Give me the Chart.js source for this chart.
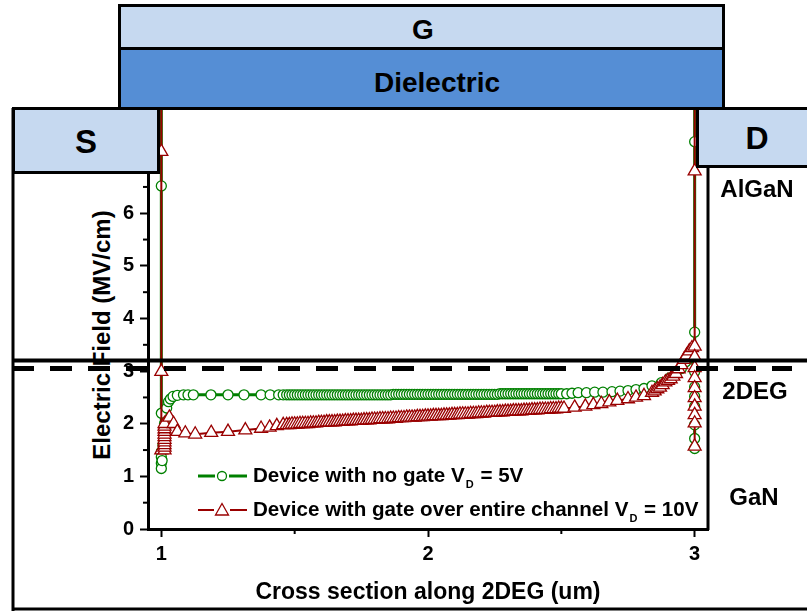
<!DOCTYPE html>
<html>
<head>
<meta charset="utf-8">
<script src="https://cdn.jsdelivr.net/npm/chart.js@4.4.1/dist/chart.umd.min.js"></script>
<style>
  html, body { margin: 0; padding: 0; background: #fff; }
  #wrap { position: relative; width: 807px; height: 612px; overflow: hidden; font-family: 'Liberation Sans', Arial, sans-serif; font-weight: bold; color: #000; }
  #chart { position: absolute; left: 0; top: 0; }
  .box { position: absolute; box-sizing: border-box; border: 3px solid #000; }
  .light { background: #c6d9f0; }
  .dark { background: #558ed5; }
  .lbl { position: absolute; transform: translate(-50%, -50%); line-height: 1; white-space: nowrap; }
  .ytitle { position: absolute; left: 102px; top: 335px; transform: translate(-50%, -50%) rotate(-90deg); font-size: 24px; line-height: 1; white-space: nowrap; }
  .leg { position: absolute; left: 196px; height: 26px; display: flex; align-items: center; white-space: nowrap; font-size: 20.6px; }
  .leg svg { margin-right: 5px; }
  .leg sub { font-size: 11px; vertical-align: -6px; margin-left: 1px; margin-right: 1px; }
</style>
</head>
<body>
<div id="wrap">
  <!-- y title sits under the canvas so the layer lines cross it, as in the figure -->
  <div class="ytitle">Electric Field (MV/cm)</div>
  <canvas id="chart" width="807" height="612"></canvas>

  <div class="box light" style="left:118px;top:4px;width:607px;height:46px"></div>
  <div class="box dark" style="left:118px;top:47px;width:607px;height:63px"></div>
  <div class="box light" style="left:12px;top:107px;width:148px;height:67px"></div>
  <div class="box light" style="left:696px;top:107px;width:130px;height:61px"></div>

  <div class="lbl" style="left:423px;top:30px;font-size:28px">G</div>
  <div class="lbl" style="left:437px;top:83px;font-size:28px">Dielectric</div>
  <div class="lbl" style="left:86px;top:141px;font-size:33px">S</div>
  <div class="lbl" style="left:757px;top:138px;font-size:32px">D</div>
  <div class="lbl" style="left:757px;top:189px;font-size:24px">AlGaN</div>
  <div class="lbl" style="left:755px;top:391px;font-size:24px">2DEG</div>
  <div class="lbl" style="left:754px;top:497px;font-size:24px">GaN</div>

  <div class="leg" style="top:463px">
    <svg width="52" height="26">
      <line x1="2" y1="13" x2="19" y2="13" stroke="#008000" stroke-width="3"/>
      <circle cx="26" cy="13" r="4.5" fill="#fff" stroke="#008000" stroke-width="1.3"/>
      <line x1="33" y1="13" x2="51" y2="13" stroke="#008000" stroke-width="3"/>
    </svg>
    <span>Device with no gate V<sub>D</sub> = 5V</span>
  </div>
  <div class="leg" style="top:497px">
    <svg width="52" height="26">
      <line x1="2" y1="13" x2="18" y2="13" stroke="#990000" stroke-width="2"/>
      <polygon points="26,6.5 32.5,18 19.5,18" fill="#fff" stroke="#990000" stroke-width="1.3"/>
      <line x1="34" y1="13" x2="51" y2="13" stroke="#990000" stroke-width="2"/>
    </svg>
    <span>Device with gate over entire channel V<sub>D</sub> = 10V</span>
  </div>
</div>

<script>
// axis ticks
const xTicks = [1, 1.5, 2, 2.5, 3];
const yTicks = [0, 0.5, 1, 1.5, 2, 2.5, 3, 3.5, 4, 4.5, 5, 5.5, 6, 6.5, 7, 7.5, 8];

// dense simulation grid along the channel (shared by both curves)
const channelX = [1.47, 1.48, 1.49, 1.50, 1.51, 1.52, 1.53, 1.54, 1.55, 1.56, 1.57, 1.58, 1.59, 1.60,
  1.61, 1.62, 1.63, 1.64, 1.65, 1.66, 1.67, 1.68, 1.69, 1.70, 1.71, 1.72, 1.73, 1.74, 1.75, 1.76,
  1.77, 1.78, 1.79, 1.80, 1.81, 1.82, 1.83, 1.84, 1.85, 1.86, 1.87, 1.88, 1.89, 1.90, 1.91, 1.92,
  1.93, 1.94, 1.95, 1.96, 1.97, 1.98, 1.99, 2.00, 2.01, 2.02, 2.03, 2.04, 2.05, 2.06, 2.07, 2.08,
  2.09, 2.10, 2.11, 2.12, 2.13, 2.14, 2.15, 2.16, 2.17, 2.18, 2.19, 2.20, 2.21, 2.22, 2.23, 2.24,
  2.25, 2.26, 2.27, 2.28, 2.29, 2.30, 2.31, 2.32, 2.33, 2.34, 2.35, 2.36, 2.37, 2.38, 2.39, 2.40,
  2.41, 2.42, 2.43, 2.44, 2.45, 2.46, 2.47, 2.48, 2.49, 2.50];

// no gate, VD = 5V (green)
const noGateLeftX = [1.0, 1.0, 1.0, 1.0, 1.0, 1.0, 1.0, 1.003, 1.006, 1.012, 1.02, 1.027, 1.034, 1.044,
  1.06, 1.083, 1.1, 1.12, 1.186, 1.25, 1.31, 1.374, 1.408, 1.44, 1.457];
const noGateLeftY = [9.0, 6.52, 2.2, 1.47, 1.37, 1.25, 1.15, 1.3, 1.6, 2.0, 2.3, 2.42, 2.47, 2.52,
  2.54, 2.55, 2.55, 2.55, 2.55, 2.55, 2.55, 2.55, 2.55, 2.55, 2.55];
const noGateChannelY = [2.55, 2.55, 2.55, 2.55, 2.55, 2.55, 2.55, 2.55, 2.55, 2.55, 2.55, 2.55, 2.55, 2.55,
  2.55, 2.55, 2.55, 2.55, 2.55, 2.55, 2.55, 2.55, 2.55, 2.55, 2.55, 2.55, 2.55, 2.55, 2.55, 2.55,
  2.55, 2.55, 2.55, 2.55, 2.55, 2.55, 2.55, 2.55, 2.55, 2.55, 2.56, 2.56, 2.56, 2.56, 2.56, 2.56,
  2.56, 2.56, 2.56, 2.56, 2.56, 2.56, 2.56, 2.56, 2.56, 2.56, 2.56, 2.56, 2.56, 2.56, 2.56, 2.56,
  2.56, 2.56, 2.56, 2.56, 2.56, 2.56, 2.56, 2.56, 2.56, 2.56, 2.56, 2.56, 2.56, 2.56, 2.56, 2.56,
  2.56, 2.56, 2.57, 2.57, 2.57, 2.57, 2.57, 2.57, 2.57, 2.57, 2.57, 2.57, 2.57, 2.57, 2.57, 2.57,
  2.57, 2.57, 2.57, 2.57, 2.57, 2.57, 2.57, 2.57, 2.57, 2.57];
const noGateRightX = [2.52, 2.54, 2.563, 2.594, 2.625, 2.656, 2.69, 2.72, 2.75, 2.78, 2.81, 2.84, 2.875,
  2.906, 2.93, 2.95, 2.967, 2.986, 3.0, 3.0, 3.0, 3.0, 3.0, 3.0, 3.0, 3.0, 3.0, 3.0];
const noGateRightY = [2.57, 2.58, 2.59, 2.59, 2.6, 2.6, 2.61, 2.62, 2.63, 2.65, 2.67, 2.72, 2.78,
  2.87, 2.97, 3.05, 3.18, 3.28, 2.99, 2.7, 2.52, 2.33, 1.98, 1.72, 1.53, 3.74, 7.36, 9.0];

// gate over entire channel, VD = 10V (dark red)
const fullGateLeftX = [1.0, 1.0, 1.0, 1.0, 1.012, 1.012, 1.012, 1.012, 1.012, 1.012, 1.012, 1.012, 1.012,
  1.012, 1.012, 1.03, 1.046, 1.06, 1.09, 1.127, 1.187, 1.25, 1.315, 1.374, 1.406, 1.433, 1.457];
const fullGateLeftY = [9.0, 7.17, 2.99, 1.5, 1.5, 1.55, 1.6, 1.65, 1.7, 1.75, 1.8, 1.85, 1.9,
  1.95, 2.0, 2.12, 2.0, 1.85, 1.82, 1.8, 1.83, 1.85, 1.88, 1.91, 1.93, 1.96, 1.98];
const fullGateChannelY = [1.98, 1.98, 1.99, 1.99, 1.99, 2.00, 2.00, 2.00, 2.00, 2.01, 2.01, 2.01, 2.02, 2.02,
  2.02, 2.03, 2.03, 2.03, 2.03, 2.04, 2.04, 2.04, 2.05, 2.05, 2.05, 2.06, 2.06, 2.06, 2.06, 2.07,
  2.07, 2.07, 2.08, 2.08, 2.08, 2.09, 2.09, 2.09, 2.09, 2.10, 2.10, 2.10, 2.11, 2.11, 2.11, 2.12,
  2.12, 2.12, 2.12, 2.13, 2.13, 2.13, 2.14, 2.14, 2.14, 2.15, 2.15, 2.15, 2.15, 2.16, 2.16, 2.16,
  2.17, 2.17, 2.17, 2.18, 2.18, 2.18, 2.18, 2.19, 2.19, 2.19, 2.20, 2.20, 2.20, 2.21, 2.21, 2.21,
  2.21, 2.22, 2.22, 2.22, 2.23, 2.23, 2.23, 2.24, 2.24, 2.24, 2.24, 2.25, 2.25, 2.25, 2.26, 2.26,
  2.26, 2.27, 2.27, 2.27, 2.27, 2.28, 2.28, 2.28, 2.29, 2.29];
const fullGateRightX = [2.51, 2.55, 2.59, 2.62, 2.65, 2.68, 2.71, 2.75, 2.78, 2.81, 2.84, 2.85, 2.86, 2.87,
  2.88, 2.89, 2.90, 2.91, 2.92, 2.93, 2.94, 2.95, 2.96, 2.97, 2.98, 2.99, 3.0, 3.0, 3.0, 3.0, 3.0,
  3.0, 3.0, 3.0, 3.0, 3.0, 3.0, 3.0];
const fullGateRightY = [2.29, 2.31, 2.33, 2.36, 2.38, 2.41, 2.44, 2.47, 2.5, 2.53, 2.59, 2.62, 2.66, 2.69,
  2.74, 2.79, 2.82, 2.85, 2.9, 2.95, 3.04, 3.12, 3.22, 3.3, 3.38, 3.44, 3.47, 3.27, 3.06, 2.87, 2.68,
  2.49, 2.33, 2.17, 2.01, 1.57, 6.8, 9.0];

const GREEN = '#008000';
const RED = '#990000';
const FONT = "'Liberation Sans', Arial, sans-serif";

function toPoints(xs, ys) {
    return xs.map((x, i) => ({ x: x, y: ys[i] }));
}

const noGatePoints = toPoints(
    [...noGateLeftX, ...channelX, ...noGateRightX],
    [...noGateLeftY, ...noGateChannelY, ...noGateRightY]
);
const fullGatePoints = toPoints(
    [...fullGateLeftX, ...channelX, ...fullGateRightX],
    [...fullGateLeftY, ...fullGateChannelY, ...fullGateRightY]
);

function isMajor(v) {
    return Math.abs(v - Math.round(v)) < 1e-9;
}

// minor ticks, frame and layer boundary lines
const decorPlugin = {
    id: 'decor',
    afterDraw(chart) {
        const { ctx, chartArea, scales } = chart;
        const seg = (x1, y1, x2, y2) => {
            ctx.beginPath();
            ctx.moveTo(x1, y1);
            ctx.lineTo(x2, y2);
            ctx.stroke();
        };
        ctx.save();
        ctx.strokeStyle = '#000';

        ctx.lineWidth = 2;
        yTicks.filter(v => !isMajor(v)).forEach(v => {
            const p = scales.y.getPixelForValue(v);
            seg(chartArea.left - 5, p, chartArea.left, p);
        });
        xTicks.filter(v => !isMajor(v)).forEach(v => {
            const p = scales.x.getPixelForValue(v);
            seg(p, chartArea.bottom, p, chartArea.bottom + 5);
        });

        // right side of plot frame
        ctx.lineWidth = 3;
        seg(chartArea.right, chartArea.top, chartArea.right, chartArea.bottom + 1);

        // outer device frame
        seg(13, 108, 13, 611);
        seg(12, 609, 807, 609);

        // AlGaN / 2DEG boundary lines
        ctx.lineWidth = 4;
        seg(12, 360.5, 807, 360.5);
        ctx.lineWidth = 5;
        ctx.setLineDash([22, 16]);
        seg(12, 368.5, 792, 368.5);
        ctx.restore();
    }
};

new Chart(document.getElementById('chart'), {
    type: 'line',
    data: {
        datasets: [{
            label: 'Device with no gate VD = 5V',
            data: noGatePoints,
            borderColor: GREEN,
            borderWidth: 3,
            pointStyle: 'circle',
            pointRadius: 5,
            pointBorderWidth: 1.3,
            pointBorderColor: GREEN,
            pointBackgroundColor: '#fff',
            order: 2
        }, {
            label: 'Device with gate over entire channel VD = 10V',
            data: fullGatePoints,
            borderColor: RED,
            borderWidth: 2,
            pointStyle: 'triangle',
            pointRadius: 7.5,
            pointBorderWidth: 1.3,
            pointBorderColor: RED,
            pointBackgroundColor: '#fff',
            order: 1
        }]
    },
    options: {
        responsive: false,
        animation: false,
        devicePixelRatio: 1,
        layout: { padding: { left: 0, top: 108, right: 99, bottom: 0 } },
        plugins: {
            legend: { display: false },
            tooltip: { enabled: false }
        },
        scales: {
            x: {
                type: 'linear',
                min: 0.95,
                max: 3.05,
                afterBuildTicks: s => { s.ticks = xTicks.map(v => ({ value: v })); },
                afterFit: s => { s.height = 83; },
                ticks: {
                    autoSkip: false,
                    maxRotation: 0,
                    padding: 5,
                    color: '#000',
                    font: { family: FONT, size: 20, weight: 'bold' },
                    callback: v => isMajor(v) ? String(v) : ''
                },
                grid: {
                    drawOnChartArea: false,
                    tickLength: 8,
                    tickWidth: 2,
                    tickColor: c => isMajor(c.tick.value) ? '#000' : 'rgba(0,0,0,0)'
                },
                border: { color: '#000', width: 3 },
                title: {
                    display: true,
                    text: 'Cross section along 2DEG (um)',
                    color: '#000',
                    font: { family: FONT, size: 23, weight: 'bold' },
                    padding: { top: 0, bottom: 6 }
                }
            },
            y: {
                min: 0,
                max: 8,
                afterBuildTicks: s => { s.ticks = yTicks.map(v => ({ value: v })); },
                afterFit: s => { s.width = 148; },
                ticks: {
                    autoSkip: false,
                    padding: 6,
                    color: '#000',
                    font: { family: FONT, size: 20, weight: 'bold' },
                    callback: v => (isMajor(v) && v <= 6) ? String(v) : ''
                },
                grid: {
                    drawOnChartArea: false,
                    tickLength: 8,
                    tickWidth: 2,
                    tickColor: c => isMajor(c.tick.value) ? '#000' : 'rgba(0,0,0,0)'
                },
                border: { color: '#000', width: 3 },
                title: { display: false }
            }
        }
    },
    plugins: [decorPlugin]
});
</script>
</body>
</html>
